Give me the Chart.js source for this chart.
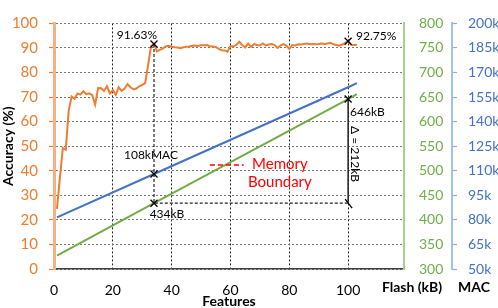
<!DOCTYPE html>
<html>
<head>
<meta charset="utf-8">
<script src="https://cdn.jsdelivr.net/npm/chart.js@4"></script>
<style>
  body { margin: 0; background: #fff; }
</style>
</head>
<body>
<canvas id="myChart" width="498" height="308"></canvas>
<script>
// feature counts and accuracy (%)
const features = [1, 2, 3, 4, 5, 6, 7, 8, 9, 10, 11, 12, 13, 14, 15, 16, 17, 18, 19, 20,
  21, 22, 23, 24, 25, 26, 27, 28, 29, 30, 31, 32, 33, 34, 35, 36, 37, 38, 39, 40,
  41, 42, 43, 44, 45, 46, 47, 48, 49, 50, 51, 52, 53, 54, 55, 56, 57, 58, 59, 60,
  61, 62, 63, 64, 65, 66, 67, 68, 69, 70, 71, 72, 73, 74, 75, 76, 77, 78, 79, 80,
  81, 82, 83, 84, 85, 86, 87, 88, 89, 90, 91, 92, 93, 94, 95, 96, 97, 98, 99, 100,
  101, 102, 103]
const accuracy = [24.5, 37, 49.2, 48.6, 64.5, 70.2, 69.3, 71.5, 71.0, 72.4, 71.2, 71.5, 70.8, 67.0, 73.7, 73.6, 72.5, 74.4, 71.5, 72.8,
  70.9, 74.0, 72.5, 73.5, 75.3, 74.0, 73.2, 73.5, 74.4, 75.0, 75.7, 83.0, 90.8, 91.63, 88.6, 89.2, 89.8, 90.6, 90.9, 90.5,
  90.3, 90.2, 89.9, 90.3, 90.5, 90.6, 90.9, 91.0, 90.8, 91.1, 91.1, 91.2, 90.7, 90.6, 90.4, 89.6, 89.1, 89.0, 88.5, 90.8,
  90.6, 91.2, 92.5, 91.2, 90.2, 91.8, 90.5, 91.6, 91.2, 91.0, 91.8, 91.0, 91.4, 91.6, 91.2, 90.0, 91.0, 91.6, 91.0, 89.6,
  91.2, 91.0, 91.5, 91.4, 91.6, 91.8, 91.5, 91.6, 91.5, 91.6, 91.8, 91.6, 91.8, 92.1, 91.5, 91.2, 90.9, 91.4, 92.1, 92.75,
  91.3, 91.2, 91.3]

// MAC (k) and flash (kB) grow linearly with features
const macFeatures = [1, 34, 100, 103]
const macValues = [81.5, 108, 161, 163.5]
const flashFeatures = [1, 34, 100, 103]
const flashValues = [327, 434, 646, 656]

// tick values
const featureTicks = [0, 20, 40, 60, 80, 100]
const accTicks = [0, 10, 20, 30, 40, 50, 60, 70, 80, 90, 100]
const flashTicks = [300, 350, 400, 450, 500, 550, 600, 650, 700, 750, 800]
const macTicks = [50, 65, 80, 95, 110, 125, 140, 155, 170, 185, 200]

// annotated points
const bestFeatures = 34, bestAcc = 91.63, bestMac = 108, bestFlash = 434
const maxFeatures = 100, maxAcc = 92.75, maxFlash = 646

const ORANGE = '#ed7d31', GREEN = '#70ad47', BLUE = '#4472c4'

const pairs = (xs, ys) => xs.map((x, i) => ({x: x, y: ys[i]}))
const setTicks = list => scale => { scale.ticks = list.map(v => ({value: v})) }

const cross = (ctx, x, y, s) => {
  ctx.beginPath()
  ctx.moveTo(x - s, y - s); ctx.lineTo(x + s, y + s)
  ctx.moveTo(x - s, y + s); ctx.lineTo(x + s, y - s)
  ctx.stroke()
}

const notes = {
  id: 'notes',
  afterDatasetsDraw(chart) {
    const {ctx, scales} = chart
    const {x, yAcc, yFlash, yMac} = scales
    const bx = x.getPixelForValue(bestFeatures)
    const mx = x.getPixelForValue(maxFeatures)
    const yBestAcc = yAcc.getPixelForValue(bestAcc)
    const yBestMac = yMac.getPixelForValue(bestMac)
    const yBestFlash = yFlash.getPixelForValue(bestFlash)
    const yMaxAcc = yAcc.getPixelForValue(maxAcc)
    const yMaxFlash = yFlash.getPixelForValue(maxFlash)

    ctx.save()
    // dashed guides
    ctx.strokeStyle = '#222'
    ctx.lineWidth = 1.2
    ctx.setLineDash([3, 2])
    ctx.beginPath()
    ctx.moveTo(bx, yBestAcc); ctx.lineTo(bx, yBestFlash)
    ctx.lineTo(mx, yBestFlash)
    ctx.stroke()
    ctx.setLineDash([])
    ctx.lineWidth = 1.5
    ctx.beginPath()
    ctx.moveTo(mx, yMaxFlash); ctx.lineTo(mx, yBestFlash)
    ctx.stroke()

    // markers
    ctx.strokeStyle = '#000'
    ctx.lineWidth = 1.3
    cross(ctx, bx, yBestAcc, 3.5)
    cross(ctx, bx, yBestMac, 3.5)
    cross(ctx, bx, yBestFlash, 3.5)
    cross(ctx, mx, yMaxAcc, 3.5)
    cross(ctx, mx, yMaxFlash, 3.5)
    ctx.beginPath()
    ctx.moveTo(mx - 3, yBestFlash - 4); ctx.lineTo(mx + 4, yBestFlash + 5)
    ctx.stroke()

    // labels
    ctx.fillStyle = '#000'
    ctx.font = '12px Lato'
    ctx.textBaseline = 'middle'
    ctx.textAlign = 'right'
    ctx.fillText(bestAcc.toFixed(2) + '%', bx + 3, yBestAcc - 9)
    ctx.textAlign = 'left'
    ctx.fillText(maxAcc.toFixed(2) + '%', mx + 8, yMaxAcc - 5)
    ctx.textAlign = 'center'
    ctx.fillText(bestMac + 'kMAC', bx - 3, yBestMac - 19)
    ctx.fillText(bestFlash + 'kB', bx + 13, yBestFlash + 11)
    ctx.textAlign = 'left'
    ctx.fillText(maxFlash + 'kB', mx + 2, yMaxFlash + 13)

    ctx.save()
    ctx.translate(mx + 7, (yMaxFlash + yBestFlash) / 2 + 3)
    ctx.rotate(Math.PI / 2)
    ctx.textAlign = 'center'
    ctx.fillText('\u0394 = ' + (maxFlash - bestFlash) + 'kB', 0, 0)
    ctx.restore()

    // memory boundary key
    const ky = yAcc.getPixelForValue(42.3)
    ctx.strokeStyle = '#ff0000'
    ctx.lineWidth = 1.5
    ctx.setLineDash([5, 3])
    ctx.beginPath()
    ctx.moveTo(x.getPixelForValue(53), ky); ctx.lineTo(x.getPixelForValue(64.5), ky)
    ctx.stroke()
    ctx.setLineDash([])
    ctx.fillStyle = '#ff0000'
    ctx.font = '15px Lato'
    ctx.textAlign = 'center'
    const kx = x.getPixelForValue(76.8)
    ctx.fillText('Memory', kx, ky - 1)
    ctx.fillText('Boundary', kx, ky + 17)

    // right axis titles
    ctx.fillStyle = '#000'
    ctx.font = 'bold 14px Lato'
    ctx.fillText('Flash (kB)', yFlash.left + 8, chart.chartArea.bottom + 18)
    ctx.fillText('MAC', yMac.left + 22, chart.chartArea.bottom + 18)
    ctx.restore()
  }
}

Chart.defaults.font.family = 'Lato'
Chart.defaults.font.size = 14

const ctx = document.getElementById('myChart').getContext('2d')
const chart = new Chart(ctx, {
  type: 'line',
  data: {
    datasets: [{
      label: 'Accuracy',
      data: pairs(features, accuracy),
      borderColor: ORANGE,
      borderWidth: 2,
      pointRadius: 0,
      yAxisID: 'yAcc'
    }, {
      label: 'MAC',
      data: pairs(macFeatures, macValues),
      borderColor: BLUE,
      borderWidth: 2,
      pointRadius: 0,
      yAxisID: 'yMac'
    }, {
      label: 'Flash',
      data: pairs(flashFeatures, flashValues),
      borderColor: GREEN,
      borderWidth: 2,
      pointRadius: 0,
      yAxisID: 'yFlash'
    }]
  },
  options: {
    responsive: false,
    animation: false,
    devicePixelRatio: 1,
    layout: { padding: { top: 7, right: 0, left: 0, bottom: 0 } },
    plugins: { legend: { display: false }, tooltip: { enabled: false } },
    scales: {
      x: {
        type: 'linear',
        min: 0,
        max: 119,
        afterBuildTicks: setTicks(featureTicks),
        afterFit: s => { s.height = 39 },
        grid: { color: '#222', drawTicks: false },
        border: { color: '#404040', width: 1.5, dash: [2, 2] },
        ticks: { color: '#000', padding: 13 },
        title: { display: true, text: 'Features', color: '#000', font: { weight: 'bold', size: 14, lineHeight: 1 }, padding: 0 }
      },
      yAcc: {
        position: 'left',
        min: 0,
        max: 100,
        afterBuildTicks: setTicks(accTicks),
        afterFit: s => { s.width = 54 },
        grid: { color: '#777', tickColor: ORANGE, tickLength: 5, tickWidth: 1.2 },
        border: { color: '#f4b183', width: 3, dash: [2, 2] },
        ticks: { color: ORANGE, padding: 11, font: { size: 15 } },
        title: { display: true, text: 'Accuracy (%)', color: '#000', font: { weight: 'bold', size: 14, lineHeight: 1 }, padding: 1 }
      },
      yFlash: {
        position: 'right',
        min: 300,
        max: 800,
        afterBuildTicks: setTicks(flashTicks),
        afterFit: s => { s.width = 48 },
        grid: { drawOnChartArea: false, drawTicks: false },
        border: { color: '#a9d18e', width: 2 },
        ticks: { color: GREEN, padding: 15 }
      },
      yMac: {
        position: 'right',
        min: 50,
        max: 200,
        afterBuildTicks: setTicks(macTicks),
        afterFit: s => { s.width = 46 },
        grid: { drawOnChartArea: false, tickColor: '#8faadc', tickLength: 5, tickWidth: 1.2 },
        border: { color: '#9dc3e6', width: 2 },
        ticks: { color: BLUE, padding: 11, callback: v => v + 'k' }
      }
    }
  },
  plugins: [notes]
})
</script>
</body>
</html>
